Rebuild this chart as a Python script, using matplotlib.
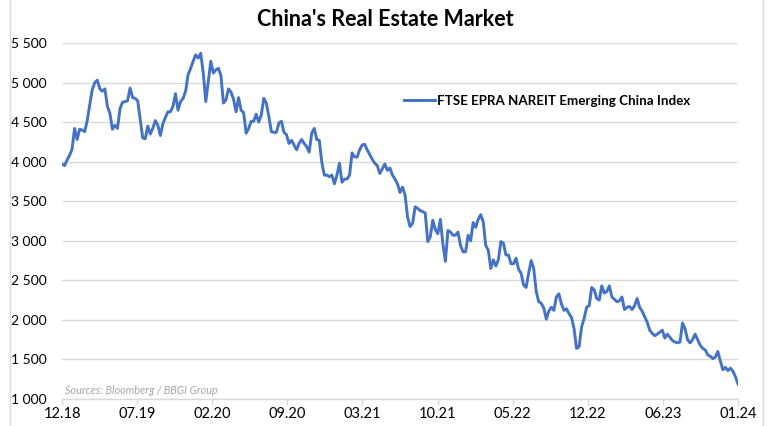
import numpy as np
import matplotlib
matplotlib.use("Agg")
import matplotlib.pyplot as plt
from matplotlib.ticker import FuncFormatter
from matplotlib.lines import Line2D

# weekly index level (Dec 2018 -> Jan 2024)
index_values = [
    3970, 3950, 4020, 4080, 4160, 4420, 4280, 4410, 4400, 4380,
    4520, 4720, 4910, 5000, 5030, 4920, 4890, 4920, 4700, 4610,
    4410, 4460, 4420, 4670, 4750, 4760, 4770, 4930, 4810, 4800,
    4770, 4540, 4300, 4290, 4450, 4350, 4420, 4520, 4460, 4330,
    4480, 4560, 4630,
    4630, 4700, 4860, 4650, 4760, 4800, 4890, 5100, 5180, 5270,
    5350, 5310, 5370, 5120, 4760, 5010, 5270, 5120, 5160, 5180,
    5090, 4740, 4780, 4920, 4880, 4790, 4630, 4810, 4650, 4620,
    4360, 4420, 4510, 4510, 4600, 4500, 4590, 4800, 4740, 4570,
    4380, 4370, 4370, 4490, 4510,
    4370, 4340, 4230, 4270, 4210, 4150, 4230, 4280, 4230, 4190,
    4120, 4360, 4420, 4280, 4270, 3990, 3830, 3830, 3810, 3830,
    3720, 3830, 3980, 3740, 3780, 3780, 3830, 4110, 4060, 4060,
    4150, 4210, 4220, 4150, 4090, 4030, 3980, 3950, 3850, 3910,
    3970, 3890, 3920, 3830, 3780, 3720, 3610, 3680,
    3580, 3300, 3180, 3220, 3430, 3410, 3380, 3370, 3350, 2990,
    3050, 3260, 3140, 3090, 3270, 2960, 2740, 3130, 3110, 3070,
    3070, 3110, 2940, 2860, 2860, 3070, 3000, 3230, 3170, 3270,
    3330, 3240, 2940, 2880, 2650, 2760, 2680, 2760, 2990, 2970,
    2820, 2820, 2710, 2710, 2780,
    2640, 2590, 2440, 2410, 2590, 2750, 2650, 2360, 2230, 2210,
    2150, 2010, 2110, 2160, 2120, 2290, 2330, 2200, 2120, 2140,
    2080, 2030, 1890, 1640, 1660, 1910, 2020, 2160, 2180, 2410,
    2380, 2270, 2250, 2430, 2340, 2360, 2430, 2290, 2260, 2230,
    2240, 2290, 2130, 2160, 2170, 2130, 2180,
    2270, 2160, 2110, 2040, 1970, 1870, 1830, 1800, 1820, 1845,
    1870, 1770, 1820, 1780, 1740, 1720, 1710, 1720, 1960, 1890,
    1750, 1710, 1750, 1820, 1750, 1680, 1640, 1620, 1560, 1540,
    1510, 1530, 1600, 1480, 1370, 1400, 1360, 1390, 1350, 1280,
    1190,
]
tick_labels = ["12.18", "07.19", "02.20", "09.20", "03.21",
               "10.21", "05.22", "12.22", "06.23", "01.24"]
series_name = "FTSE EPRA NAREIT Emerging China Index"

font = "Lato"
blue = "#4472C4"
grid_grey = "#d9d9d9"

fig = plt.figure(figsize=(7.71, 4.26), dpi=100)
ax = fig.add_axes([62 / 771, 1 - 399 / 426, 676 / 771, 356 / 426])

x = np.arange(len(index_values))
ax.plot(x, index_values, color=blue, lw=2.1, solid_joinstyle="round")

ax.set_xlim(0, len(index_values) - 1)
ax.set_ylim(1000, 5500)
ax.set_yticks(np.arange(1000, 5501, 500))
ax.yaxis.set_major_formatter(FuncFormatter(lambda v, p: f"{v:,.0f}".replace(",", " ")))
ax.set_xticks(np.linspace(0, len(index_values) - 1, len(tick_labels)))
ax.set_xticklabels(tick_labels)

ax.grid(axis="y", color=grid_grey, lw=1.0)
ax.set_axisbelow(True)
for s in ["left", "right", "top"]:
    ax.spines[s].set_visible(False)
ax.spines["bottom"].set_color(grid_grey)
ax.spines["bottom"].set_linewidth(1.0)
ax.tick_params(axis="y", length=0, pad=11, labelsize=10)
ax.tick_params(axis="x", length=4, width=1, color=grid_grey, pad=2, labelsize=10.5)
for lab in ax.get_xticklabels() + ax.get_yticklabels():
    lab.set_fontfamily(font)
    lab.set_color("black")

fig.text(0.5, 1 - 20 / 426, "China's Real Estate Market", ha="center", va="center",
         fontsize=15.5, fontweight="bold", family=font)

handle = Line2D([], [], color=blue, lw=2.1)
leg = ax.legend([handle], [series_name], loc="center left",
                bbox_to_anchor=((404 - 62) / 676, (399 - 101) / 356),
                frameon=False, handlelength=2.3, handletextpad=0.2,
                borderaxespad=0, borderpad=0,
                prop={"family": font, "weight": "bold", "size": 9.6})

ax.text(3 / 676, (399 - 390) / 356, "Sources: Bloomberg / BBGI Group",
        transform=ax.transAxes, ha="left", va="center", fontsize=7.8,
        style="italic", color="#a6a6a6", family=font)

# chart frame edges
fig.add_artist(Line2D([10 / 771, 10 / 771], [0, 1], color=grid_grey, lw=1.0))
fig.add_artist(Line2D([763 / 771, 763 / 771], [0, 1], color=grid_grey, lw=1.0))

fig.savefig("out.png", dpi=100)
